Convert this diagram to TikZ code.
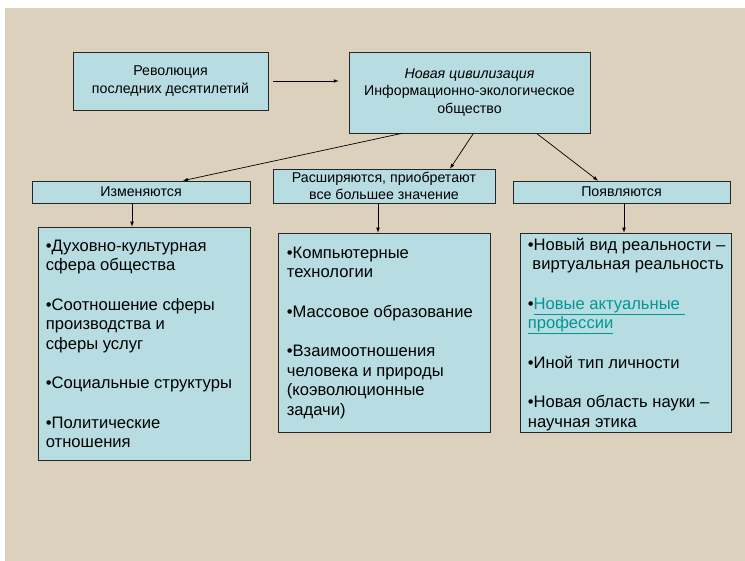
\documentclass[tikz,border=0pt]{standalone}
\usepackage{fontspec}
\setmainfont{Liberation Sans}
\usetikzlibrary{positioning}

\definecolor{linen}{RGB}{219,209,188}
\definecolor{boxfill}{RGB}{183,221,226}
\definecolor{linkteal}{RGB}{0,150,150}

\tikzset{
  box/.style={draw=black!85, fill=boxfill, line width=0.7pt, inner sep=0pt,
    align=center, font=\fontsize{14.2}{17.5}\selectfont},
  listtext/.style={anchor=north west, inner sep=0pt, align=left,
    font=\fontsize{16.6}{19.5}\selectfont},
  arr/.style={-latex, line width=0.7pt},
}

\begin{document}
\begin{tikzpicture}[x=1pt, y=-1pt]
    \useasboundingbox (0,0) rectangle (745,561);
    \fill[linen] (5,8) rectangle (745,561);

    % top row
    \node[box, minimum width=195, minimum height=58] (rev) at (170.5,81) {Революция\\последних десятилетий};
    \node[box, minimum width=241, minimum height=81] (civ) at (469.5,92.5) {\textit{Новая цивилизация}\\Информационно-экологическое\\общество};

    % middle row
    \node[box, minimum width=218, minimum height=22] (izm) at (141,192) {Изменяются};
    \node[box, minimum width=222, minimum height=34] (ras) at (384,186) {Расширяются, приобретают\\все большее значение};
    \node[box, minimum width=217, minimum height=22] (poy) at (621.5,192) {Появляются};

    % lists
    \node[box, minimum width=212, minimum height=233] (izmlist) at (144,343.5) {};
    \node[box, minimum width=212, minimum height=199] (raslist) at (384,332.5) {};
    \node[box, minimum width=211, minimum height=199] (poylist) at (625.5,332.5) {};

    \node[listtext, below right=13pt and 8pt of izmlist.north west] (izmtext)
      {•Духовно-культурная\\сфера общества\\[20pt]
       •Соотношение сферы\\производства и\\сферы услуг\\[20pt]
       •Социальные структуры\\[20pt]
       •Политические\\отношения};
    \node[listtext, below right=14pt and 9pt of raslist.north west] (rastext)
      {•Компьютерные\\технологии\\[20pt]
       •Массовое образование\\[20pt]
       •Взаимоотношения\\человека и природы\\(коэволюционные\\задачи)};
    \node[listtext, below right=5pt and 8pt of poylist.north west] (poytext)
      {•Новый вид реальности –\\\ виртуальная реальность\\[20pt]
       •\textcolor{linkteal}{\underline{Новые актуальные\ }}\\\textcolor{linkteal}{\underline{профессии}}\\[20pt]
       •Иной тип личности\\[20pt]
       •Новая область науки –\\научная этика};

    % arrows
    \draw[arr, shorten <=5pt, shorten >=10pt] (rev.east) -- (rev.east -| civ.west);
    \draw[arr] ([xshift=-67.5pt]civ.south) -- ([xshift=42pt]izm.north);
    \draw[arr] ([xshift=4pt]civ.south) -- ([xshift=66pt]ras.north);
    \draw[arr] ([xshift=67pt]civ.south) -- ([xshift=-23.5pt]poy.north);
    \draw[arr] ([xshift=-9pt]izm.south) -- ([xshift=-12pt]izmlist.north);
    \draw[arr] ([xshift=-6pt]ras.south) -- ([xshift=-6pt]raslist.north);
    \draw[arr] ([xshift=2.5pt]poy.south) -- ([xshift=-1.5pt]poylist.north);
\end{tikzpicture}
\end{document}
